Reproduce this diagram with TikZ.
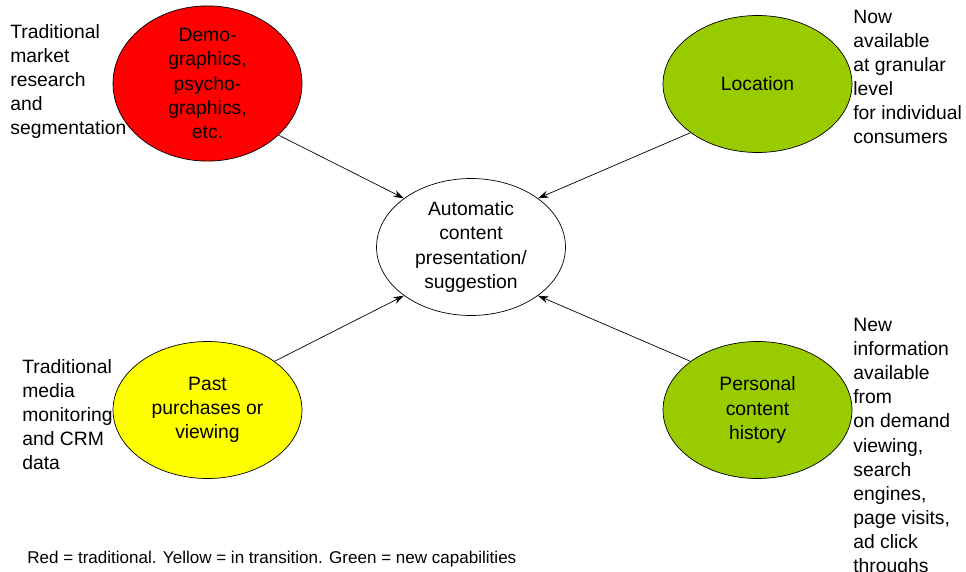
\documentclass[tikz,border=0pt]{standalone}
\usepackage{fontspec}
\setmainfont{Liberation Sans}
\usetikzlibrary{arrows.meta}
\usetikzlibrary{shapes.geometric}
\usetikzlibrary{positioning}

\definecolor{tradred}{HTML}{FF0000}
\definecolor{transyellow}{HTML}{FFFF00}
\definecolor{newgreen}{HTML}{99CC00}

\begin{document}
\begin{tikzpicture}[x=0.02cm, y=-0.02cm,
		bubble/.style={ellipse, draw, thin, minimum width=3.78cm, minimum height=2.74cm, inner sep=0pt, align=center, font=\fontsize{11}{13.7}\selectfont},
		note/.style={anchor=north west, inner sep=0pt, align=left, font=\fontsize{11}{13.7}\selectfont},
		feed/.style={-{Stealth[length=6pt,width=4pt]}, thin}]
		\useasboundingbox (0,0) rectangle (966,571);

		\node[bubble, fill=tradred] (demo) at (207.5,83.5) {Demo-\\graphics,\\psycho-\\graphics,\\etc.};
		\node[bubble, fill=newgreen] (loc) at (757.5,84) {Location};
		\node[bubble] (auto) at (471,247) {Automatic\\content\\presentation/\\suggestion};
		\node[bubble, fill=transyellow] (past) at (207.5,410) {Past\\purchases or\\viewing};
		\node[bubble, fill=newgreen] (hist) at (757.5,410) {Personal\\content\\history};

		\node[note] (tradmarket) at (10,24) {Traditional\\market\\research\\and\\segmentation};
		\node[note] (nowavail) at (853,10) {Now\\available\\at granular\\level\\for individual\\consumers};
		\node[note] (tradmedia) at (22,359) {Traditional\\media\\monitoring\\and CRM\\data};
		\node[note] (newinfo) at (853,318) {New\\information\\available\\from\\on demand\\viewing,\\search\\engines,\\page visits,\\ad click\\throughs};

		\node[note, font=\fontsize{9.7}{11.5}\selectfont] (legend) at (27,551) {Red = traditional. Yellow = in transition. Green = new capabilities};

		\draw (demo.-36) edge[feed] (auto.144);
		\draw (loc.216) edge[feed] (auto.36);
		\draw (past.36) edge[feed] (auto.216);
		\draw (hist.144) edge[feed] (auto.-36);
	\end{tikzpicture}
\end{document}
